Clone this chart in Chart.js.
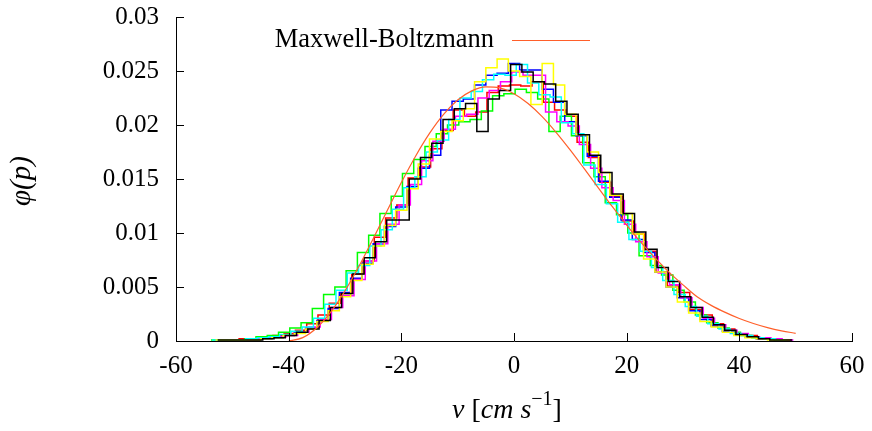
<!DOCTYPE html>
<html><head><meta charset="utf-8">
<script src="https://cdn.jsdelivr.net/npm/chart.js@4/dist/chart.umd.min.js"></script>
<style>html,body{margin:0;padding:0;background:#fff}#wrap{width:872px;height:431px}</style>
</head><body><div id="wrap"><canvas id="c" width="872" height="431"></canvas></div>
<script>
// ---- tick labels ----
const xTickValues = [-60, -40, -20, 0, 20, 40, 60];
const xTickLabels = ['-60', '-40', '-20', '0', '20', '40', '60'];
const yTickValues = [0, 0.005, 0.01, 0.015, 0.02, 0.025, 0.03];
const yTickLabels = ['0', '0.005', '0.01', '0.015', '0.02', '0.025', '0.03'];

// ---- Maxwell-Boltzmann curve ----
const mbTitle = 'Maxwell-Boltzmann';
const mbVelocity = [-40, -37.5, -35, -32.5, -30, -27.5, -25, -22.5, -20, -17.5, -15, -12.5, -10, -7.5, -5, -2.5, 0, 2.5, 5, 7.5, 10, 12.5, 15, 17.5, 20, 22.5, 25, 27.5, 30, 32.5, 35, 37.5, 40, 42.5, 45, 47.5, 50];
const mbDensity = [0, 0.00031, 0.00123, 0.0027, 0.00464, 0.00694, 0.00947, 0.01209, 0.01468, 0.01709, 0.01922, 0.02098, 0.02231, 0.02316, 0.02353, 0.02343, 0.0229, 0.02199, 0.02077, 0.0193, 0.01767, 0.01593, 0.01416, 0.01241, 0.01074, 0.00916, 0.00772, 0.00638, 0.00520, 0.00410, 0.00330, 0.00265, 0.00208, 0.00162, 0.00124, 0.00094, 0.00071];

// ---- histograms: bin width, first bin edge, bin heights ----
const binWidth = 2;
const redStart = -52.8;
const redValues = [0.0001,0.0001,0.0002,0.0002,0.0003,0.0005,0.0007,0.0010,0.0016,0.0024,0.0035,0.0044,0.0062,0.0074,0.0096,0.0114,0.0126,0.0151,0.0161,0.0178,0.0195,0.0214,0.0208,0.0212,0.0230,0.0236,0.0237,0.0236,0.0240,0.0221,0.0214,0.0208,0.0184,0.0170,0.0147,0.0134,0.0111,0.0099,0.0083,0.0064,0.0051,0.0045,0.0029,0.0024,0.0016,0.0011,0.0006,0.0005,0.0002,0.0002,0.0001];
const greenStart = -53.8;
const greenValues = [0.0001,0.0001,0.0001,0.0002,0.0004,0.0005,0.0008,0.0012,0.0017,0.0030,0.0043,0.0050,0.0065,0.0082,0.0098,0.0118,0.0134,0.0155,0.0168,0.0180,0.0192,0.0200,0.0203,0.0205,0.0213,0.0227,0.0229,0.0233,0.0230,0.0224,0.0194,0.0208,0.0190,0.0165,0.0152,0.0128,0.0117,0.0100,0.0079,0.0070,0.0061,0.0047,0.0036,0.0024,0.0017,0.0012,0.0008,0.0005,0.0003,0.0002,0.0001];
const blueStart = -53.0;
const blueValues = [0.0001,0.0001,0.0001,0.0001,0.0002,0.0003,0.0005,0.0008,0.0012,0.0019,0.0030,0.0045,0.0058,0.0072,0.0090,0.0106,0.0124,0.0143,0.0160,0.0172,0.0214,0.0222,0.0224,0.0237,0.0246,0.0248,0.0257,0.0251,0.0251,0.0233,0.0221,0.0203,0.0190,0.0171,0.0148,0.0133,0.0112,0.0094,0.0082,0.0064,0.0050,0.0040,0.0028,0.0020,0.0014,0.0009,0.0006,0.0004,0.0002,0.0002,0.0001];
const magentaStart = -52.4;
const magentaValues = [0.0001,0.0001,0.0001,0.0002,0.0003,0.0004,0.0005,0.0008,0.0013,0.0020,0.0031,0.0042,0.0057,0.0074,0.0090,0.0108,0.0126,0.0145,0.0167,0.0185,0.0196,0.0208,0.0210,0.0225,0.0232,0.0240,0.0249,0.0246,0.0246,0.0212,0.0203,0.0199,0.0182,0.0160,0.0142,0.0130,0.0108,0.0092,0.0078,0.0063,0.0052,0.0040,0.0031,0.0021,0.0015,0.0010,0.0007,0.0004,0.0003,0.0002,0.0001];
const cyanStart = -53.6;
const cyanValues = [0.0001,0.0001,0.0001,0.0002,0.0003,0.0004,0.0006,0.0009,0.0013,0.0021,0.0034,0.0047,0.0063,0.0070,0.0088,0.0103,0.0122,0.0142,0.0152,0.0175,0.0186,0.0205,0.0225,0.0231,0.0242,0.0247,0.0246,0.0256,0.0239,0.0228,0.0226,0.0202,0.0192,0.0163,0.0145,0.0127,0.0110,0.0094,0.0083,0.0068,0.0056,0.0043,0.0032,0.0023,0.0016,0.0011,0.0007,0.0005,0.0003,0.0002,0.0001];
const yellowStart = -53.0;
const yellowValues = [0.0001,0.0001,0.0001,0.0001,0.0002,0.0003,0.0005,0.0007,0.0011,0.0018,0.0028,0.0041,0.0056,0.0071,0.0088,0.0107,0.0121,0.0141,0.0164,0.0187,0.0194,0.0204,0.0215,0.0240,0.0253,0.0261,0.0250,0.0245,0.0219,0.0257,0.0237,0.0210,0.0191,0.0175,0.0156,0.0135,0.0118,0.0099,0.0076,0.0064,0.0050,0.0036,0.0026,0.0018,0.0013,0.0008,0.0005,0.0003,0.0002,0.0001,0.0001];
const blackStart = -52.6;
const blackValues = [0.0001,0.0001,0.0001,0.0001,0.0002,0.0003,0.0005,0.0008,0.0011,0.0019,0.0031,0.0044,0.0062,0.0077,0.0092,0.0112,0.0112,0.0150,0.0170,0.0183,0.0205,0.0215,0.0220,0.0194,0.0224,0.0232,0.0256,0.0249,0.0240,0.0238,0.0222,0.0210,0.0191,0.0172,0.0156,0.0136,0.0118,0.0101,0.0085,0.0068,0.0055,0.0041,0.0031,0.0022,0.0015,0.0010,0.0006,0.0004,0.0002,0.0001,0.0001];

const FONT = '"Liberation Serif", "Times New Roman", serif';
const MB_COLOR = '#ff5f2a';

function histPoints(start, values) {
  const pts = values.map((v, i) => ({x: start + binWidth * i, y: v}));
  pts.push({x: start + binWidth * values.length, y: values[values.length - 1]});
  return pts;
}
function histDataset(start, values, color) {
  return {label: '', data: histPoints(start, values), borderColor: color, borderWidth: 1.5,
    stepped: 'before', pointRadius: 0, fill: false, tension: 0};
}

const datasets = [
  {label: mbTitle, data: mbVelocity.map((v, i) => ({x: v, y: mbDensity[i]})), borderColor: MB_COLOR,
   borderWidth: 1.2, pointRadius: 0, fill: false, tension: 0.4, cubicInterpolationMode: 'monotone'},
  histDataset(blackStart, blackValues, '#000000'),
  histDataset(yellowStart, yellowValues, '#ffff00'),
  histDataset(cyanStart, cyanValues, '#00ffff'),
  histDataset(magentaStart, magentaValues, '#ff00ff'),
  histDataset(blueStart, blueValues, '#0000ff'),
  histDataset(greenStart, greenValues, '#00ff00'),
  histDataset(redStart, redValues, '#ff0000'),
];

const decor = {
  id: 'decor',
  afterDraw(chart) {
    const ctx = chart.ctx, a = chart.chartArea;
    const xs = chart.scales.x, ys = chart.scales.y;
    ctx.save();
    ctx.strokeStyle = '#000'; ctx.lineWidth = 1;
    ctx.beginPath();
    xTickValues.forEach(v => { const p = Math.round(xs.getPixelForValue(v)) + 0.5; ctx.moveTo(p, a.bottom); ctx.lineTo(p, a.bottom - 8); });
    yTickValues.forEach(v => { const p = Math.round(ys.getPixelForValue(v)) + 0.5; ctx.moveTo(a.left, p); ctx.lineTo(a.left + 8, p); });
    ctx.stroke();
    // legend
    ctx.fillStyle = '#000';
    ctx.font = '26.5px ' + FONT;
    ctx.textAlign = 'right'; ctx.textBaseline = 'alphabetic';
    ctx.fillText(mbTitle, 494, 47);
    ctx.strokeStyle = MB_COLOR; ctx.lineWidth = 1.2;
    ctx.beginPath(); ctx.moveTo(512, 40.5); ctx.lineTo(590, 40.5); ctx.stroke();
    // x title
    ctx.fillStyle = '#000';
    ctx.textAlign = 'left';
    let x = 452; const yb = 418;
    const parts = [['v', 'italic 28px ' + FONT, 0], [' [', '28px ' + FONT, 0], ['cm', 'italic 28px ' + FONT, 0],
      [' s', 'italic 28px ' + FONT, 0], ['\u22121', '20px ' + FONT, -13], [']', '28px ' + FONT, 0]];
    parts.forEach(([t, f, dy]) => { ctx.font = f; ctx.fillText(t, x, yb + dy); x += ctx.measureText(t).width; });
    // y title
    ctx.translate(22, 181); ctx.rotate(-Math.PI / 2);
    ctx.textAlign = 'center'; ctx.textBaseline = 'middle';
    ctx.font = 'italic 29px ' + FONT;
    ctx.fillText('\u03c6(p)', 0, 0);
    ctx.restore();
  }
};

new Chart(document.getElementById('c'), {
  type: 'line',
  data: {datasets},
  options: {
    responsive: false, animation: false, devicePixelRatio: 1,
    layout: {padding: {top: 17, right: 20, left: 0, bottom: 0}},
    plugins: {legend: {display: false}, tooltip: {enabled: false}},
    scales: {
      x: {type: 'linear', min: -60, max: 60,
        afterBuildTicks: s => { s.ticks = xTickValues.map(v => ({value: v})); },
        afterFit: s => { s.height = 90; s.paddingLeft = 0; s.paddingRight = 0; },
        ticks: {callback: (v, i) => xTickLabels[i], color: '#000', font: {family: FONT, size: 25}, padding: 10, maxRotation: 0, autoSkip: false},
        grid: {display: false, drawTicks: false}, border: {display: true, color: '#000', width: 1}},
      y: {type: 'linear', min: 0, max: 0.03,
        afterBuildTicks: s => { s.ticks = yTickValues.map(v => ({value: v})); },
        afterFit: s => { s.width = 176; s.paddingTop = 0; s.paddingBottom = 0; },
        ticks: {callback: (v, i) => yTickLabels[i], color: '#000', font: {family: FONT, size: 25}, padding: 17, autoSkip: false},
        grid: {display: false, drawTicks: false}, border: {display: true, color: '#000', width: 1}}
    }
  },
  plugins: [decor]
});
</script></body></html>
